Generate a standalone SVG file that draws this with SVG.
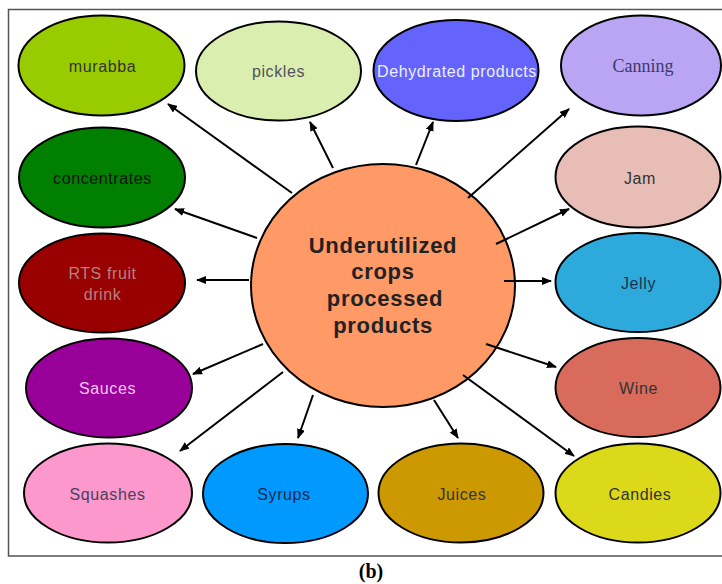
<svg xmlns="http://www.w3.org/2000/svg" width="722" height="584" viewBox="0 0 722 584">
  <style>
    .node ellipse { stroke: #000; stroke-width: 2; }
    .lbl { font-family: "Liberation Sans", Arial, sans-serif; font-size: 16px; letter-spacing: 0.6px; text-anchor: middle; }
    .serif { font-family: "Liberation Serif", "Times New Roman", serif; font-size: 18px; letter-spacing: 0; }
    .hub { font-family: "Liberation Sans", Arial, sans-serif; font-size: 22px; font-weight: bold; letter-spacing: 0.7px; text-anchor: middle; fill: #222; }
    .conn line { stroke: #000; stroke-width: 2; marker-end: url(#arrow); }
    .caption { font-family: "Liberation Serif", "Times New Roman", serif; font-size: 20px; font-weight: bold; text-anchor: middle; fill: #000; }
  </style>
  <defs>
    <marker id="arrow" markerUnits="userSpaceOnUse" markerWidth="10" markerHeight="8" refX="9" refY="4" orient="auto">
      <path d="M0,0 L10,4 L0,8 Z" fill="#000"/>
    </marker>
  </defs>

  <rect width="722" height="584" fill="#fff"/>

  <!-- frame -->
  <path d="M722,9.5 H8.5 V556 H722" fill="none" stroke="#555" stroke-width="1.5"/>

  <!-- hub -->
  <g id="hub" class="node">
    <ellipse cx="383" cy="285.5" rx="132" ry="121.5" fill="#ff9966"/>
    <text class="hub" x="383" y="253">Underutilized</text>
    <text class="hub" x="383" y="279">crops</text>
    <text class="hub" x="385" y="306">processed</text>
    <text class="hub" x="383" y="333">products</text>
  </g>

  <!-- connectors -->
  <g id="connectors" class="conn">
    <line x1="292" y1="193" x2="168" y2="104"/>
    <line x1="333" y1="168" x2="310" y2="122"/>
    <line x1="257" y1="238" x2="175" y2="209"/>
    <line x1="416" y1="165" x2="433" y2="122"/>
    <line x1="468" y1="198" x2="569" y2="109"/>
    <line x1="496" y1="244" x2="569" y2="209"/>
    <line x1="504" y1="281" x2="551" y2="281"/>
    <line x1="486" y1="344" x2="556" y2="367"/>
    <line x1="463" y1="375" x2="574" y2="456"/>
    <line x1="434" y1="400" x2="458" y2="438"/>
    <line x1="313" y1="395" x2="298" y2="438"/>
    <line x1="283" y1="372" x2="180" y2="451"/>
    <line x1="263" y1="344" x2="193" y2="374"/>
    <line x1="249" y1="280" x2="197" y2="280"/>
  </g>

  <!-- left column -->
  <g id="murabba" class="node">
    <ellipse cx="101.5" cy="65.5" rx="83" ry="50" fill="#99cc00"/>
    <text class="lbl" x="102.5" y="72" fill="#333">murabba</text>
  </g>
  <g id="concentrates" class="node">
    <ellipse cx="102" cy="177.5" rx="83" ry="50" fill="#007f00"/>
    <text class="lbl" x="102.5" y="184" fill="#111">concentrates</text>
  </g>
  <g id="rts" class="node">
    <ellipse cx="102" cy="283" rx="83" ry="49.5" fill="#990000"/>
    <text class="lbl" x="102.5" y="279" fill="#b48080">RTS fruit</text>
    <text class="lbl" x="102.5" y="300" fill="#b48080">drink</text>
  </g>
  <g id="sauces" class="node">
    <ellipse cx="109" cy="388" rx="83" ry="49.5" fill="#990099"/>
    <text class="lbl" x="107.5" y="394" fill="#f5c8f5">Sauces</text>
  </g>
  <g id="squashes" class="node">
    <ellipse cx="108" cy="493" rx="84" ry="49.5" fill="#fc98cb"/>
    <text class="lbl" x="107.5" y="500" fill="#4a4060">Squashes</text>
  </g>

  <!-- top row -->
  <g id="pickles" class="node">
    <ellipse cx="278.5" cy="71" rx="82.5" ry="49.5" fill="#daeeb0"/>
    <text class="lbl" x="278.5" y="77" fill="#555060">pickles</text>
  </g>
  <g id="dehydrated" class="node">
    <ellipse cx="456" cy="70.5" rx="82.5" ry="50.5" fill="#6464fc"/>
    <text class="lbl" x="457" y="77" fill="#eeeeff">Dehydrated products</text>
  </g>

  <!-- bottom row -->
  <g id="syrups" class="node">
    <ellipse cx="285.5" cy="493.5" rx="82.5" ry="49.5" fill="#0099ff"/>
    <text class="lbl" x="284" y="500" fill="#1a2a4a">Syrups</text>
  </g>
  <g id="juices" class="node">
    <ellipse cx="461" cy="493" rx="82.5" ry="49.5" fill="#cc9900"/>
    <text class="lbl" x="462" y="500" fill="#333">Juices</text>
  </g>

  <!-- right column -->
  <g id="canning" class="node">
    <ellipse cx="641" cy="65.5" rx="80" ry="50" fill="#baa5f5"/>
    <text class="lbl serif" x="643" y="72" fill="#3a3a66">Canning</text>
  </g>
  <g id="jam" class="node">
    <ellipse cx="638" cy="177" rx="82.5" ry="50.5" fill="#e7bdb5"/>
    <text class="lbl" x="640" y="184" fill="#333">Jam</text>
  </g>
  <g id="jelly" class="node">
    <ellipse cx="638" cy="282.5" rx="82.5" ry="49.5" fill="#2daadb"/>
    <text class="lbl" x="638.5" y="289" fill="#1a3550">Jelly</text>
  </g>
  <g id="wine" class="node">
    <ellipse cx="638" cy="387.5" rx="82.5" ry="49.5" fill="#d96b5c"/>
    <text class="lbl" x="638.5" y="394" fill="#333">Wine</text>
  </g>
  <g id="candies" class="node">
    <ellipse cx="638" cy="493" rx="82.5" ry="49.5" fill="#dcd81a"/>
    <text class="lbl" x="640" y="500" fill="#333">Candies</text>
  </g>

  <text class="caption" x="371" y="578">(b)</text>
</svg>
